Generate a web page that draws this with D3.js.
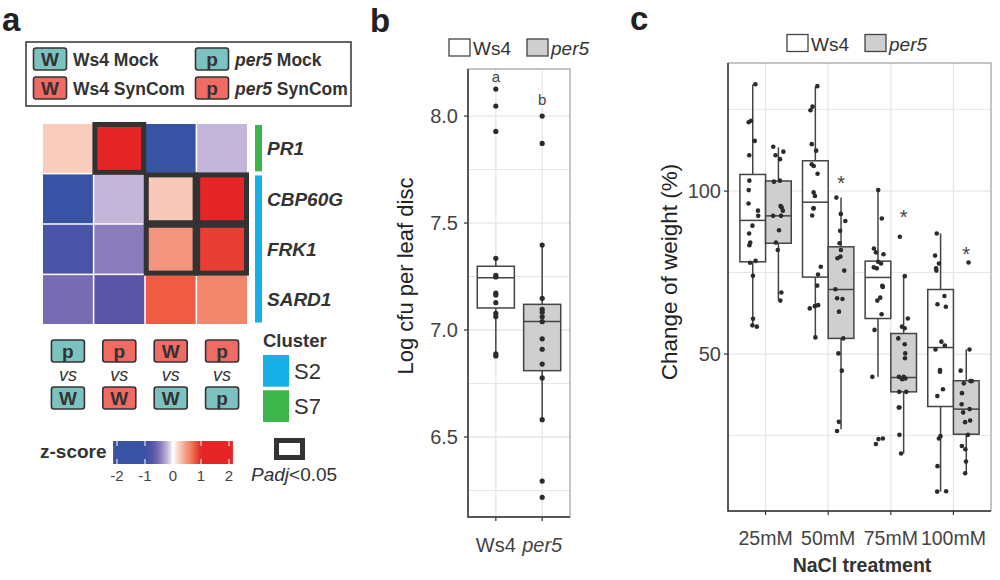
<!DOCTYPE html>
<html>
<head>
<meta charset="utf-8">
<script src="https://cdn.jsdelivr.net/npm/d3@7"></script>
<style>
body{margin:0;background:#fff;}
svg{display:block;font-family:"Liberation Sans",Arial,sans-serif;}
</style>
</head>
<body>
<div id="chart"></div>
<script>
// ---------- panel a : heatmap ----------
var genes = ["PR1", "CBP60G", "FRK1", "SARD1"];
var geneCluster = ["S7", "S2", "S2", "S2"];
var comparisons = ["pMock_vs_WMock", "pSyn_vs_WSyn", "WSyn_vs_WMock", "pSyn_vs_pMock"];
var compTop = [["p", "Mock"], ["p", "SynCom"], ["W", "SynCom"], ["p", "SynCom"]];
var compBottom = [["W", "Mock"], ["W", "SynCom"], ["W", "Mock"], ["p", "Mock"]];
var zscores = [
  [0.22, 1.6, -1.5, -0.2],
  [-1.3, -0.2, 0.24, 1.5],
  [-0.85, -0.45, 0.5, 0.9],
  [-0.55, -0.7, 0.78, 0.57]
];
var padjSig = [
  [0, 1, 0, 0],
  [0, 0, 1, 1],
  [0, 0, 1, 1],
  [0, 0, 0, 0]
];
var zTicks = [-2, -1, 0, 1, 2];
var clusters = ["S2", "S7"];
var genoNames = ["Ws4", "per5"];
var genoLetters = ["W", "p"];
var treatNames = ["Mock", "SynCom"];

// ---------- panel b : bacterial growth ----------
var bGenotypes = ["Ws4", "per5"];
var bPoints = [
  [8.126, 8.047, 7.928, 7.335, 7.255, 7.248, 7.172, 7.164, 7.128, 7.078, 7.063, 6.888, 6.879],
  [8.0, 7.872, 7.397, 7.148, 7.097, 7.083, 7.062, 7.039, 6.959, 6.910, 6.841, 6.776, 6.581, 6.294, 6.218]
];
// q1, median, q3, whisker low, whisker high
var bBoxStats = [
  [7.103, 7.244, 7.298, 6.879, 7.335],
  [6.81, 7.04, 7.12, 6.581, 7.397]
];
var bLetters = ["a", "b"];
var bLetterY = [8.158, 8.05];
var bTicks = [6.5, 7.0, 7.5, 8.0];
var bMinor = [6.25, 6.75, 7.25, 7.75];

// ---------- panel c : salt treatment ----------
var cTreatments = ["25mM", "50mM", "75mM", "100mM"];
var cWs4Points = [
  [132.8, 121.6, 121.1, 115.4, 111.0, 103.2, 100.3, 96.2, 94.0, 92.4, 89.4, 87.0, 84.2, 83.4, 78.6, 78.0, 74.0, 60.8, 58.8, 58.4],
  [132.2, 125.9, 124.8, 114.4, 112.4, 108.2, 107.7, 105.3, 99.6, 98.5, 94.7, 94.7, 92.5, 76.8, 74.4, 71.0, 65.0, 64.7, 64.0, 55.1],
  [100.3, 91.6, 82.4, 81.2, 80.6, 78.3, 77.8, 76.6, 76.3, 70.9, 70.6, 67.3, 66.4, 62.2, 57.4, 43.0, 24.1, 23.9, 22.4],
  [87.0, 80.2, 77.8, 76.3, 75.6, 67.8, 65.3, 64.5, 53.8, 52.6, 51.4, 45.1, 44.6, 39.2, 37.1, 24.8, 24.1, 15.6, 7.9, 7.8]
];
var cPer5Points = [
  [113.6, 112.1, 111.0, 109.8, 103.2, 102.9, 95.4, 95.0, 94.0, 92.4, 92.4, 88.0, 84.2, 81.9, 68.9, 66.4],
  [98.0, 93.0, 90.8, 87.8, 84.0, 81.9, 79.9, 79.4, 75.6, 69.9, 67.1, 66.9, 63.0, 54.8, 50.2, 44.9, 29.2, 26.4],
  [86.0, 73.9, 60.9, 58.4, 57.9, 54.8, 53.0, 50.2, 48.7, 43.0, 43.0, 42.5, 42.3, 38.4, 38.4, 33.6, 33.6, 25.2, 19.5],
  [78.1, 51.4, 44.9, 41.7, 41.7, 41.0, 38.0, 34.6, 33.1, 32.1, 29.6, 29.1, 25.2, 21.8, 20.8, 17.0, 13.4]
];
var cWs4Box = [
  [78.3, 91.0, 105.1, 58.4, 132.7],
  [73.6, 96.6, 109.3, 55.0, 132.0],
  [60.9, 73.5, 78.5, 43.0, 100.3],
  [33.9, 52.0, 69.8, 7.8, 87.0]
];
var cPer5Box = [
  [84.0, 92.4, 103.1, 66.6, 113.4],
  [54.8, 69.8, 82.9, 26.9, 98.0],
  [38.4, 42.8, 56.3, 19.5, 73.9],
  [25.4, 33.1, 41.8, 13.4, 51.4]
];
var cStars = [null, 100.4, 90.0, 78.4];
var cTicks = [50, 100];
var cMinor = [25, 75, 125];

var TEAL = "#7cc2c0", SALMON = "#ef6b64", DARK = "#333333", GRID = "#e6e6e9";
var treatColor = {"Mock": TEAL, "SynCom": SALMON};
var clusterColor = {"S2": "#17b0e6", "S7": "#3db54a"};

var svg = d3.select("#chart").append("svg")
  .attr("width", 1000).attr("height", 580);
svg.append("rect").attr("width", 1000).attr("height", 580).attr("fill", "#fff");

function panelLetter(txt, x, y){
  svg.append("text").attr("x", x).attr("y", y).text(txt)
    .attr("font-size", 33).attr("font-weight", "bold").attr("fill", "#222");
}

// small rounded box with a genotype letter
function letterBox(g, cx, top, letter, treat){
  g.append("rect").attr("x", cx - 16.5).attr("y", top).attr("width", 33).attr("height", 22)
    .attr("rx", 2.5).attr("fill", treatColor[treat]).attr("stroke", DARK).attr("stroke-width", 1.6);
  g.append("text").attr("x", cx).attr("y", top + 18).attr("text-anchor", "middle")
    .attr("font-size", 19).attr("font-weight", "bold").attr("fill", DARK).text(letter);
}

// ============ PANEL A ============
panelLetter("a", 2, 31);
var ga = svg.append("g");

// top legend of the four sample groups
ga.append("rect").attr("x", 26).attr("y", 42).attr("width", 325).attr("height", 64)
  .attr("fill", "none").attr("stroke", DARK).attr("stroke-width", 1.5);
var legCol = d3.scaleOrdinal().domain(genoNames).range([50, 212]);
var legRow = d3.scaleOrdinal().domain(treatNames).range([48, 77]);
genoNames.forEach(function(gn, gi){
  treatNames.forEach(function(tn){
    letterBox(ga, legCol(gn), legRow(tn), genoLetters[gi], tn);
    var t = ga.append("text").attr("x", legCol(gn) + 23).attr("y", legRow(tn) + 17.5)
      .attr("font-size", 17.5).attr("font-weight", "bold").attr("fill", DARK);
    t.append("tspan").attr("font-style", gn === "per5" ? "italic" : "normal").text(gn);
    t.append("tspan").text(" " + tn);
  });
});

var hx = d3.scaleBand().domain(comparisons).range([43, 247]).paddingInner(0.03);
var hy = d3.scaleBand().domain(genes).range([124, 324]).paddingInner(0.03);
var zColor = d3.scaleLinear()
  .domain([-1, -0.7, -0.45, -0.2, 0, 0.25, 0.5, 0.75, 1])
  .range(["#3853a3", "#5b55a8", "#8a7bbb", "#c4b6da", "#ffffff", "#f8c6b5", "#f2957c", "#ee6447", "#e52527"])
  .clamp(true);

var cells = [];
genes.forEach(function(gene, r){
  comparisons.forEach(function(cmp, c){
    cells.push({gene: gene, cmp: cmp, z: zscores[r][c], sig: padjSig[r][c]});
  });
});
ga.selectAll("rect.cell").data(cells).enter().append("rect")
  .attr("class", "cell")
  .attr("x", function(d){ return hx(d.cmp); })
  .attr("y", function(d){ return hy(d.gene); })
  .attr("width", hx.bandwidth()).attr("height", hy.bandwidth())
  .attr("fill", function(d){ return zColor(d.z); });
ga.selectAll("rect.sig").data(cells.filter(function(d){ return d.sig; })).enter().append("rect")
  .attr("class", "sig")
  .attr("x", function(d){ return hx(d.cmp) + 0.5; })
  .attr("y", function(d){ return hy(d.gene) + 0.5; })
  .attr("width", hx.bandwidth() - 1).attr("height", hy.bandwidth() - 1)
  .attr("fill", "none").attr("stroke", DARK).attr("stroke-width", 5);

// cluster side bar
clusters.forEach(function(cl){
  var rows = genes.filter(function(g, i){ return geneCluster[i] === cl; });
  if (!rows.length) return;
  var y0 = hy(rows[0]), y1 = hy(rows[rows.length - 1]) + hy.bandwidth();
  ga.append("rect").attr("x", 255).attr("y", y0 + 1).attr("width", 7).attr("height", y1 - y0 - 2.5)
    .attr("fill", clusterColor[cl]);
});
ga.selectAll("text.gene").data(genes).enter().append("text")
  .attr("class", "gene")
  .attr("x", 267).attr("y", function(d){ return hy(d) + hy.bandwidth() / 2 + 6.8; })
  .attr("font-size", 19).attr("font-weight", "bold").attr("font-style", "italic")
  .attr("fill", DARK).text(function(d){ return d; });

// comparison labels under the heatmap
comparisons.forEach(function(cmp, i){
  var cx = hx(cmp) + hx.bandwidth() / 2;
  letterBox(ga, cx, 340, compTop[i][0], compTop[i][1]);
  ga.append("text").attr("x", cx).attr("y", 381).attr("text-anchor", "middle")
    .attr("font-size", 18).attr("font-style", "italic").attr("fill", DARK).text("vs");
  letterBox(ga, cx, 387, compBottom[i][0], compBottom[i][1]);
});

// cluster legend
ga.append("text").attr("x", 263).attr("y", 347).attr("font-size", 18.5).attr("font-weight", "bold")
  .attr("fill", DARK).text("Cluster");
var clY = d3.scaleBand().domain(clusters).range([355, 422]).paddingInner(0.1);
clusters.forEach(function(cl){
  ga.append("rect").attr("x", 263).attr("y", clY(cl)).attr("width", 26).attr("height", clY.bandwidth())
    .attr("fill", clusterColor[cl]);
  ga.append("text").attr("x", 294).attr("y", clY(cl) + clY.bandwidth() / 2 + 8)
    .attr("font-size", 22).attr("fill", DARK).text(cl);
});

// z-score colour bar
ga.append("text").attr("x", 40).attr("y", 458).attr("font-size", 19).attr("font-weight", "bold")
  .attr("fill", DARK).text("z-score");
var zx = d3.scaleLinear().domain([-2, 2]).range([117, 229]);
var grad = svg.append("defs").append("linearGradient").attr("id", "zgrad")
  .attr("x1", "0%").attr("x2", "100%").attr("y1", "0%").attr("y2", "0%");
d3.range(0, 41).forEach(function(i){
  var v = -2.14 + i * 4.28 / 40;
  grad.append("stop").attr("offset", (i / 40 * 100) + "%").attr("stop-color", zColor(v));
});
ga.append("rect").attr("x", zx(-2.14)).attr("y", 441).attr("width", zx(2.14) - zx(-2.14)).attr("height", 23)
  .attr("fill", "url(#zgrad)");
zTicks.forEach(function(t){
  ga.append("line").attr("x1", zx(t)).attr("x2", zx(t)).attr("y1", 441).attr("y2", 446)
    .attr("stroke", "#fff").attr("stroke-width", 1);
  ga.append("line").attr("x1", zx(t)).attr("x2", zx(t)).attr("y1", 459).attr("y2", 464)
    .attr("stroke", "#fff").attr("stroke-width", 1);
  ga.append("text").attr("x", zx(t)).attr("y", 481).attr("text-anchor", "middle")
    .attr("font-size", 15).attr("fill", "#444").text(t);
});

// Padj legend
ga.append("rect").attr("x", 276.5).attr("y", 440.5).attr("width", 26).attr("height", 17)
  .attr("fill", "none").attr("stroke", DARK).attr("stroke-width", 5);
var pt = ga.append("text").attr("x", 251).attr("y", 481).attr("font-size", 19).attr("fill", DARK);
pt.append("tspan").attr("font-style", "italic").text("Padj");
pt.append("tspan").text("<0.05");

// ---------- shared helpers for box panels ----------
function drawFrame(g, x0, x1, y, ticks, minor, fmt, labelX){
  minor.forEach(function(v){
    g.append("line").attr("x1", x0).attr("x2", x1).attr("y1", y(v)).attr("y2", y(v))
      .attr("stroke", GRID).attr("stroke-width", 1);
  });
  ticks.forEach(function(v){
    g.append("line").attr("x1", x0).attr("x2", x1).attr("y1", y(v)).attr("y2", y(v))
      .attr("stroke", GRID).attr("stroke-width", 1.3);
    g.append("line").attr("x1", x0 - 4).attr("x2", x0).attr("y1", y(v)).attr("y2", y(v))
      .attr("stroke", DARK).attr("stroke-width", 1.2);
    g.append("text").attr("x", labelX).attr("y", y(v) + 7).attr("text-anchor", "end")
      .attr("font-size", 20).attr("fill", "#444").text(fmt(v));
  });
}
function drawBorder(g, x0, x1, y0, y1){
  g.append("rect").attr("x", x0).attr("y", y0).attr("width", x1 - x0).attr("height", y1 - y0)
    .attr("fill", "none").attr("stroke", "#8a8a8a").attr("stroke-width", 1);
  g.append("path").attr("d", "M" + x0 + "," + y0 + "V" + y1 + "H" + x1)
    .attr("fill", "none").attr("stroke", DARK).attr("stroke-width", 1.5);
}
function drawBox(g, cx, w, s, y, fill){
  var col = "#444", sw = 1.5;
  g.append("line").attr("x1", cx).attr("x2", cx).attr("y1", y(s[2])).attr("y2", y(s[4]))
    .attr("stroke", col).attr("stroke-width", sw);
  g.append("line").attr("x1", cx).attr("x2", cx).attr("y1", y(s[0])).attr("y2", y(s[3]))
    .attr("stroke", col).attr("stroke-width", sw);
  g.append("rect").attr("x", cx - w / 2).attr("y", y(s[2])).attr("width", w).attr("height", y(s[0]) - y(s[2]))
    .attr("fill", fill).attr("stroke", col).attr("stroke-width", sw);
  g.append("line").attr("x1", cx - w / 2).attr("x2", cx + w / 2).attr("y1", y(s[1])).attr("y2", y(s[1]))
    .attr("stroke", col).attr("stroke-width", sw);
}
function genoLegend(g, x, y){
  var lx = d3.scaleOrdinal().domain(genoNames).range([x, x + 78]);
  genoNames.forEach(function(gn, i){
    g.append("rect").attr("x", lx(gn)).attr("y", y).attr("width", 21).attr("height", 17)
      .attr("fill", i ? "#cfcfcf" : "#fff").attr("stroke", "#444").attr("stroke-width", 1.3);
    g.append("text").attr("x", lx(gn) + 24).attr("y", y + 16).attr("font-size", 19)
      .attr("font-style", i ? "italic" : "normal").attr("fill", DARK).text(gn);
  });
}

// ============ PANEL B ============
panelLetter("b", 370, 32);
var gb = svg.append("g");
var bx = d3.scalePoint().domain(bGenotypes).range([468, 570]).padding(0.6);
var by = d3.scaleLinear().domain([6.126, 8.22]).range([517, 69]);
genoLegend(gb, 449, 39);
bGenotypes.forEach(function(gn){
  gb.append("line").attr("x1", bx(gn)).attr("x2", bx(gn)).attr("y1", 69).attr("y2", 517)
    .attr("stroke", GRID).attr("stroke-width", 1.3);
});
drawFrame(gb, 468, 570, by, bTicks, bMinor, d3.format(".1f"), 458);
var bw = bx.step() * 0.8;
bGenotypes.forEach(function(gn, i){
  drawBox(gb, bx(gn), bw, bBoxStats[i], by, i ? "#cfcfcf" : "#fff");
  gb.selectAll(null).data(bPoints[i]).enter().append("circle")
    .attr("cx", bx(gn)).attr("cy", function(d){ return by(d); }).attr("r", 2.6).attr("fill", "#2b2b2b");
  gb.append("text").attr("x", bx(gn)).attr("y", by(bLetterY[i])).attr("text-anchor", "middle")
    .attr("font-size", 15).attr("fill", "#444").text(bLetters[i]);
  gb.append("line").attr("x1", bx(gn)).attr("x2", bx(gn)).attr("y1", 517).attr("y2", 521)
    .attr("stroke", DARK).attr("stroke-width", 1.2);
  gb.append("text").attr("x", bx(gn)).attr("y", 552).attr("text-anchor", "middle")
    .attr("font-size", 20).attr("font-style", i ? "italic" : "normal").attr("fill", "#444").text(gn);
});
drawBorder(gb, 468, 570, 69, 517);
gb.append("text").attr("transform", "translate(413,276) rotate(-90)").attr("text-anchor", "middle")
  .attr("font-size", 22).attr("fill", "#222").text("Log cfu per leaf disc");

// ============ PANEL C ============
panelLetter("c", 630, 30);
var gc = svg.append("g");
var cx = d3.scalePoint().domain(cTreatments).range([728, 991]).padding(0.6);
var cy = d3.scaleLinear().domain([1.84, 139.3]).range([511, 63]);
genoLegend(gc, 787, 34.5);
cTreatments.forEach(function(t){
  gc.append("line").attr("x1", cx(t)).attr("x2", cx(t)).attr("y1", 63).attr("y2", 511)
    .attr("stroke", GRID).attr("stroke-width", 1.3);
});
drawFrame(gc, 728, 991, cy, cTicks, cMinor, d3.format("d"), 721);
var cStep = cx.step();
var boxW = cStep * 0.41, dodge = cStep * 0.205;
var jitter = d3.randomUniform.source(d3.randomLcg(0.42))(-0.09, 0.09);
cTreatments.forEach(function(t, i){
  var groups = [
    {x: cx(t) - dodge, box: cWs4Box[i], pts: cWs4Points[i], fill: "#fff"},
    {x: cx(t) + dodge, box: cPer5Box[i], pts: cPer5Points[i], fill: "#cfcfcf"}
  ];
  groups.forEach(function(gr){
    drawBox(gc, gr.x, boxW, gr.box, cy, gr.fill);
  });
  groups.forEach(function(gr){
    gc.selectAll(null).data(gr.pts).enter().append("circle")
      .attr("cx", function(){ return gr.x + jitter() * cStep; })
      .attr("cy", function(d){ return cy(d); }).attr("r", 2.3).attr("fill", "#2b2b2b");
  });
  if (cStars[i] !== null){
    gc.append("text").attr("x", cx(t) + dodge).attr("y", cy(cStars[i])).attr("text-anchor", "middle")
      .attr("font-size", 20).attr("fill", "#444").text("*");
  }
  gc.append("line").attr("x1", cx(t)).attr("x2", cx(t)).attr("y1", 511).attr("y2", 515)
    .attr("stroke", DARK).attr("stroke-width", 1.2);
  gc.append("text").attr("x", cx(t)).attr("y", 545).attr("text-anchor", "middle")
    .attr("font-size", 19.5).attr("fill", "#444").text(t);
});
drawBorder(gc, 728, 991, 63, 511);
gc.append("text").attr("transform", "translate(677,272) rotate(-90)").attr("text-anchor", "middle")
  .attr("font-size", 22.5).attr("fill", "#222").text("Change of weight (%)");
gc.append("text").attr("x", 862).attr("y", 572).attr("text-anchor", "middle")
  .attr("font-size", 19.5).attr("font-weight", "bold").attr("fill", DARK).text("NaCl treatment");
</script>
</body>
</html>
